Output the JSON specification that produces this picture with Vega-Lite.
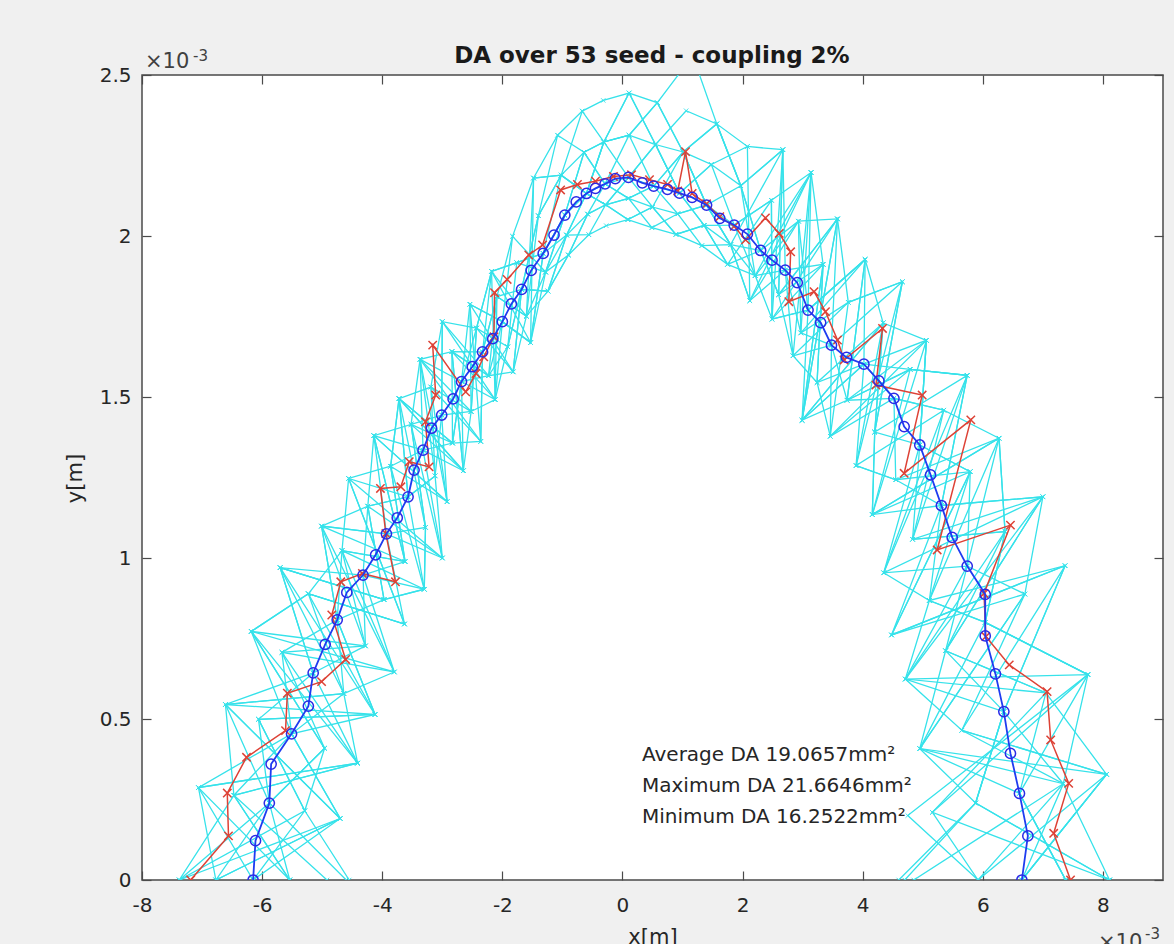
{
"$schema": "https://vega.github.io/schema/vega-lite/v6.json",
"autosize": {"type": "none"},
"width": 1021, "height": 805,
"padding": {"left": 142, "top": 75, "right": 11, "bottom": 64},
"background": "#f0f0f0",
"config": {"view": {"stroke": "#4a4a4a", "strokeWidth": 1.5, "fill": "white"}, "font": "DejaVu Sans"},
"datasets": {
"cyan": [
{"s":1,"x":-7.38,"y":0},{"s":1,"x":-5.88,"y":0.239},{"s":1,"x":-6.06,"y":0.499},{"s":1,"x":-4.12,"y":0.514},{"s":1,"x":-4.75,"y":0.808},{"s":1,"x":-5.01,"y":1.099},{"s":1,"x":-3.62,"y":0.989},{"s":1,"x":-3.86,"y":1.285},{"s":1,"x":-2.92,"y":1.175},{"s":1,"x":-3.01,"y":1.444},{"s":1,"x":-3.00,"y":1.734},{"s":1,"x":-2.23,"y":1.566},{"s":1,"x":-2.09,"y":1.812},{"s":1,"x":-1.68,"y":1.834},{"s":1,"x":-1.40,"y":2.063},{"s":1,"x":-1.02,"y":2.189},{"s":1,"x":-0.64,"y":2.260},{"s":1,"x":-0.31,"y":2.292},{"s":1,"x":0.11,"y":2.313},{"s":1,"x":0.58,"y":2.414},{"s":1,"x":1.01,"y":2.261},{"s":1,"x":1.48,"y":2.222},{"s":1,"x":1.86,"y":2.034},{"s":1,"x":2.21,"y":1.877},{"s":1,"x":3.14,"y":2.197},{"s":1,"x":3.09,"y":1.77},{"s":1,"x":2.99,"y":1.428},{"s":1,"x":4.34,"y":1.730},{"s":1,"x":4.20,"y":1.391},{"s":1,"x":5.74,"y":1.567},{"s":1,"x":4.35,"y":0.954},{"s":1,"x":5.74,"y":0.975},{"s":1,"x":6.70,"y":0.888},{"s":1,"x":5.65,"y":0.465},{"s":1,"x":8.06,"y":0.328},{"s":1,"x":6.65,"y":0},
{"s":2,"x":-4.55,"y":0},{"s":2,"x":-5.29,"y":0.215},{"s":2,"x":-6.06,"y":0.499},{"s":2,"x":-5.15,"y":0.643},{"s":2,"x":-5.70,"y":0.970},{"s":2,"x":-3.97,"y":0.871},{"s":2,"x":-3.30,"y":0.903},{"s":2,"x":-3.57,"y":1.19},{"s":2,"x":-3.72,"y":1.495},{"s":2,"x":-2.83,"y":1.357},{"s":2,"x":-2.68,"y":1.548},{"s":2,"x":-2.43,"y":1.714},{"s":2,"x":-1.82,"y":1.578},{"s":2,"x":-1.60,"y":1.751},{"s":2,"x":-1.28,"y":1.888},{"s":2,"x":-0.93,"y":2.003},{"s":2,"x":-0.58,"y":2.068},{"s":2,"x":-0.28,"y":2.097},{"s":2,"x":0.10,"y":2.117},{"s":2,"x":0.50,"y":2.090},{"s":2,"x":0.89,"y":2.005},{"s":2,"x":1.36,"y":2.033},{"s":2,"x":1.86,"y":2.034},{"s":2,"x":2.48,"y":2.111},{"s":2,"x":2.49,"y":1.742},{"s":2,"x":3.09,"y":1.77},{"s":2,"x":4.04,"y":1.927},{"s":2,"x":3.74,"y":1.490},{"s":2,"x":4.79,"y":1.586},{"s":2,"x":4.16,"y":1.135},{"s":2,"x":5.31,"y":1.163},{"s":2,"x":7.00,"y":1.190},{"s":2,"x":5.38,"y":0.712},{"s":2,"x":7.05,"y":0.581},{"s":2,"x":5.16,"y":0.210},{"s":2,"x":5.92,"y":0},
{"s":3,"x":-6.15,"y":0},{"s":3,"x":-7.06,"y":0.287},{"s":3,"x":-4.41,"y":0.363},{"s":3,"x":-5.67,"y":0.707},{"s":3,"x":-4.28,"y":0.727},{"s":3,"x":-4.67,"y":1.023},{"s":3,"x":-4.56,"y":1.247},{"s":3,"x":-3.00,"y":1.000},{"s":3,"x":-3.32,"y":1.335},{"s":3,"x":-2.83,"y":1.357},{"s":3,"x":-2.84,"y":1.641},{"s":3,"x":-2.12,"y":1.492},{"s":3,"x":-2.00,"y":1.734},{"s":3,"x":-1.83,"y":1.999},{"s":3,"x":-1.48,"y":2.180},{"s":3,"x":-1.08,"y":2.313},{"s":3,"x":-0.67,"y":2.388},{"s":3,"x":-0.32,"y":2.421},{"s":3,"x":0.11,"y":2.444},{"s":3,"x":0.55,"y":2.284},{"s":3,"x":1.06,"y":2.389},{"s":3,"x":1.57,"y":2.348},{"s":3,"x":1.97,"y":2.156},{"s":3,"x":2.30,"y":1.955},{"s":3,"x":2.60,"y":1.818},{"s":3,"x":3.58,"y":2.053},{"s":3,"x":3.76,"y":1.794},{"s":3,"x":3.46,"y":1.378},{"s":3,"x":5.06,"y":1.676},{"s":3,"x":4.95,"y":1.351},{"s":3,"x":4.83,"y":1.058},{"s":3,"x":6.37,"y":1.082},{"s":3,"x":4.71,"y":0.624},{"s":3,"x":7.75,"y":0.638},{"s":3,"x":6.61,"y":0.269},{"s":3,"x":7.38,"y":0},
{"s":4,"x":-5.54,"y":0},{"s":4,"x":-6.47,"y":0.263},{"s":4,"x":-6.61,"y":0.545},{"s":4,"x":-4.64,"y":0.579},{"s":4,"x":-3.80,"y":0.646},{"s":4,"x":-4.32,"y":0.947},{"s":4,"x":-4.24,"y":1.161},{"s":4,"x":-3.57,"y":1.19},{"s":4,"x":-3.12,"y":1.255},{"s":4,"x":-3.37,"y":1.617},{"s":4,"x":-2.36,"y":1.362},{"s":4,"x":-2.33,"y":1.640},{"s":4,"x":-2.18,"y":1.890},{"s":4,"x":-1.76,"y":1.917},{"s":4,"x":-1.32,"y":1.946},{"s":4,"x":-0.96,"y":2.065},{"s":4,"x":-0.60,"y":2.132},{"s":4,"x":-0.29,"y":2.162},{"s":4,"x":0.10,"y":2.182},{"s":4,"x":0.52,"y":2.155},{"s":4,"x":0.95,"y":2.133},{"s":4,"x":1.36,"y":2.033},{"s":4,"x":1.80,"y":1.973},{"s":4,"x":2.12,"y":1.799},{"s":4,"x":2.93,"y":2.046},{"s":4,"x":2.97,"y":1.699},{"s":4,"x":3.48,"y":1.661},{"s":4,"x":4.66,"y":1.858},{"s":4,"x":3.89,"y":1.287},{"s":4,"x":5.35,"y":1.459},{"s":4,"x":6.27,"y":1.372},{"s":4,"x":5.11,"y":0.868},{"s":4,"x":6.04,"y":0.80},{"s":4,"x":4.95,"y":0.408},{"s":4,"x":7.34,"y":0.299},{"s":4,"x":8.11,"y":0},
{"s":5,"x":-6.77,"y":0},{"s":5,"x":-4.70,"y":0.191},{"s":5,"x":-5.51,"y":0.454},{"s":5,"x":-6.18,"y":0.772},{"s":5,"x":-5.23,"y":0.889},{"s":5,"x":-3.63,"y":0.795},{"s":5,"x":-3.93,"y":1.075},{"s":5,"x":-4.14,"y":1.380},{"s":5,"x":-3.52,"y":1.415},{"s":5,"x":-2.65,"y":1.271},{"s":5,"x":-2.68,"y":1.548},{"s":5,"x":-2.23,"y":1.566},{"s":5,"x":-1.91,"y":1.656},{"s":5,"x":-1.68,"y":1.834},{"s":5,"x":-1.24,"y":1.829},{"s":5,"x":-0.90,"y":1.941},{"s":5,"x":-0.56,"y":2.004},{"s":5,"x":-0.27,"y":2.032},{"s":5,"x":0.09,"y":2.051},{"s":5,"x":0.49,"y":2.026},{"s":5,"x":0.89,"y":2.005},{"s":5,"x":1.32,"y":1.970},{"s":5,"x":1.75,"y":1.912},{"s":5,"x":2.21,"y":1.877},{"s":5,"x":2.71,"y":1.894},{"s":5,"x":3.34,"y":1.912},{"s":5,"x":2.99,"y":1.428},{"s":5,"x":4.02,"y":1.602},{"s":5,"x":4.52,"y":1.496},{"s":5,"x":4.55,"y":1.243},{"s":5,"x":5.79,"y":1.268},{"s":5,"x":4.48,"y":0.761},{"s":5,"x":7.37,"y":0.976},{"s":5,"x":6.35,"y":0.523},{"s":5,"x":5.88,"y":0.239},{"s":5,"x":4.70,"y":0},
{"s":6,"x":-7.38,"y":0},{"s":6,"x":-5.29,"y":0.215},{"s":6,"x":-4.96,"y":0.409},{"s":6,"x":-5.67,"y":0.707},{"s":6,"x":-4.75,"y":0.808},{"s":6,"x":-4.67,"y":1.023},{"s":6,"x":-3.30,"y":0.903},{"s":6,"x":-3.28,"y":1.095},{"s":6,"x":-3.72,"y":1.495},{"s":6,"x":-3.19,"y":1.531},{"s":6,"x":-2.52,"y":1.455},{"s":6,"x":-2.54,"y":1.788},{"s":6,"x":-2.00,"y":1.734},{"s":6,"x":-1.53,"y":1.669},{"s":6,"x":-1.28,"y":1.888},{"s":6,"x":-0.96,"y":2.065},{"s":6,"x":-0.64,"y":2.260},{"s":6,"x":-0.29,"y":2.162},{"s":6,"x":0.10,"y":2.117},{"s":6,"x":0.52,"y":2.155},{"s":6,"x":1.01,"y":2.261},{"s":6,"x":1.40,"y":2.096},{"s":6,"x":1.80,"y":1.973},{"s":6,"x":2.67,"y":2.268},{"s":6,"x":2.60,"y":1.818},{"s":6,"x":2.84,"y":1.628},{"s":6,"x":3.76,"y":1.794},{"s":6,"x":4.66,"y":1.858},{"s":6,"x":4.20,"y":1.391},{"s":6,"x":4.95,"y":1.351},{"s":6,"x":4.35,"y":0.954},{"s":6,"x":7.00,"y":1.190},{"s":6,"x":5.38,"y":0.712},{"s":6,"x":7.05,"y":0.581},{"s":6,"x":6.61,"y":0.269},{"s":6,"x":7.38,"y":0},
{"s":7,"x":-4.92,"y":0},{"s":7,"x":-6.47,"y":0.263},{"s":7,"x":-5.51,"y":0.454},{"s":7,"x":-4.12,"y":0.514},{"s":7,"x":-5.70,"y":0.970},{"s":7,"x":-3.97,"y":0.871},{"s":7,"x":-4.24,"y":1.161},{"s":7,"x":-4.14,"y":1.380},{"s":7,"x":-3.32,"y":1.335},{"s":7,"x":-2.65,"y":1.271},{"s":7,"x":-2.84,"y":1.641},{"s":7,"x":-2.33,"y":1.640},{"s":7,"x":-2.09,"y":1.812},{"s":7,"x":-1.60,"y":1.751},{"s":7,"x":-1.40,"y":2.063},{"s":7,"x":-1.02,"y":2.189},{"s":7,"x":-0.60,"y":2.132},{"s":7,"x":-0.31,"y":2.292},{"s":7,"x":0.11,"y":2.313},{"s":7,"x":0.55,"y":2.284},{"s":7,"x":0.95,"y":2.133},{"s":7,"x":1.48,"y":2.222},{"s":7,"x":1.97,"y":2.156},{"s":7,"x":2.30,"y":1.955},{"s":7,"x":3.14,"y":2.197},{"s":7,"x":3.34,"y":1.912},{"s":7,"x":3.24,"y":1.545},{"s":7,"x":3.46,"y":1.378},{"s":7,"x":4.79,"y":1.586},{"s":7,"x":5.74,"y":1.567},{"s":7,"x":5.31,"y":1.163},{"s":7,"x":5.11,"y":0.868},{"s":7,"x":6.04,"y":0.80},{"s":7,"x":7.75,"y":0.638},{"s":7,"x":4.75,"y":0.200},{"s":7,"x":5.92,"y":0},
{"s":8,"x":-6.15,"y":0},{"s":8,"x":-4.70,"y":0.191},{"s":8,"x":-6.61,"y":0.545},{"s":8,"x":-5.15,"y":0.643},{"s":8,"x":-4.28,"y":0.727},{"s":8,"x":-5.01,"y":1.099},{"s":8,"x":-3.93,"y":1.075},{"s":8,"x":-3.00,"y":1.000},{"s":8,"x":-3.52,"y":1.415},{"s":8,"x":-3.01,"y":1.444},{"s":8,"x":-2.52,"y":1.455},{"s":8,"x":-2.12,"y":1.492},{"s":8,"x":-2.18,"y":1.890},{"s":8,"x":-1.76,"y":1.917},{"s":8,"x":-1.32,"y":1.946},{"s":8,"x":-0.93,"y":2.003},{"s":8,"x":-0.60,"y":2.132},{"s":8,"x":-0.31,"y":2.292},{"s":8,"x":0.11,"y":2.444},{"s":8,"x":0.58,"y":2.414},{"s":8,"x":1.17,"y":2.56},{"s":8,"x":1.57,"y":2.348},{"s":8,"x":2.08,"y":2.278},{"s":8,"x":2.67,"y":2.268},{"s":8,"x":2.71,"y":1.894},{"s":8,"x":2.84,"y":1.628},{"s":8,"x":3.24,"y":1.545},{"s":8,"x":4.34,"y":1.730},{"s":8,"x":5.06,"y":1.676},{"s":8,"x":4.16,"y":1.135},{"s":8,"x":5.79,"y":1.268},{"s":8,"x":5.74,"y":0.975},{"s":8,"x":4.71,"y":0.624},{"s":8,"x":5.65,"y":0.465},{"s":8,"x":8.06,"y":0.328},{"s":8,"x":6.65,"y":0},
{"s":9,"x":-6.77,"y":0},{"s":9,"x":-7.06,"y":0.287},{"s":9,"x":-4.41,"y":0.363},{"s":9,"x":-4.64,"y":0.579},{"s":9,"x":-5.23,"y":0.889},{"s":9,"x":-3.63,"y":0.795},{"s":9,"x":-4.56,"y":1.247},{"s":9,"x":-3.57,"y":1.19},{"s":9,"x":-3.12,"y":1.255},{"s":9,"x":-3.19,"y":1.531},{"s":9,"x":-3.00,"y":1.734},{"s":9,"x":-2.43,"y":1.714},{"s":9,"x":-1.91,"y":1.656},{"s":9,"x":-1.68,"y":1.834},{"s":9,"x":-1.24,"y":1.829},{"s":9,"x":-0.93,"y":2.003},{"s":9,"x":-0.56,"y":2.004},{"s":9,"x":-0.28,"y":2.097},{"s":9,"x":0.09,"y":2.051},{"s":9,"x":0.50,"y":2.090},{"s":9,"x":0.89,"y":2.005},{"s":9,"x":1.36,"y":2.033},{"s":9,"x":1.75,"y":1.912},{"s":9,"x":2.48,"y":2.111},{"s":9,"x":2.49,"y":1.742},{"s":9,"x":3.58,"y":2.053},{"s":9,"x":3.48,"y":1.661},{"s":9,"x":3.74,"y":1.490},{"s":9,"x":4.52,"y":1.496},{"s":9,"x":5.35,"y":1.459},{"s":9,"x":4.83,"y":1.058},{"s":9,"x":7.00,"y":1.190},{"s":9,"x":6.70,"y":0.888},{"s":9,"x":4.95,"y":0.408},{"s":9,"x":5.88,"y":0.239},{"s":9,"x":8.11,"y":0},
{"s":10,"x":-5.54,"y":0},{"s":10,"x":-5.88,"y":0.239},{"s":10,"x":-4.96,"y":0.409},{"s":10,"x":-6.18,"y":0.772},{"s":10,"x":-3.80,"y":0.646},{"s":10,"x":-4.67,"y":1.023},{"s":10,"x":-3.62,"y":0.989},{"s":10,"x":-3.86,"y":1.285},{"s":10,"x":-3.72,"y":1.495},{"s":10,"x":-2.83,"y":1.357},{"s":10,"x":-2.36,"y":1.362},{"s":10,"x":-2.54,"y":1.788},{"s":10,"x":-2.00,"y":1.734},{"s":10,"x":-1.53,"y":1.669},{"s":10,"x":-1.48,"y":2.180},{"s":10,"x":-1.02,"y":2.189},{"s":10,"x":-0.67,"y":2.388},{"s":10,"x":-0.31,"y":2.292},{"s":10,"x":0.10,"y":2.182},{"s":10,"x":0.55,"y":2.284},{"s":10,"x":0.95,"y":2.133},{"s":10,"x":1.48,"y":2.222},{"s":10,"x":2.08,"y":2.278},{"s":10,"x":2.12,"y":1.799},{"s":10,"x":3.14,"y":2.197},{"s":10,"x":2.97,"y":1.699},{"s":10,"x":4.04,"y":1.927},{"s":10,"x":4.02,"y":1.602},{"s":10,"x":3.89,"y":1.287},{"s":10,"x":4.55,"y":1.243},{"s":10,"x":6.27,"y":1.372},{"s":10,"x":6.37,"y":1.082},{"s":10,"x":5.38,"y":0.712},{"s":10,"x":6.35,"y":0.523},{"s":10,"x":7.34,"y":0.299},{"s":10,"x":4.85,"y":0},
{"s":11,"x":-5.54,"y":0},{"s":11,"x":-7.06,"y":0.287},{"s":11,"x":-5.51,"y":0.454},{"s":11,"x":-5.67,"y":0.707},{"s":11,"x":-3.80,"y":0.646},{"s":11,"x":-5.01,"y":1.099},{"s":11,"x":-3.93,"y":1.075},{"s":11,"x":-3.28,"y":1.095},{"s":11,"x":-3.52,"y":1.415},{"s":11,"x":-3.37,"y":1.617},{"s":11,"x":-2.68,"y":1.548},{"s":11,"x":-2.12,"y":1.492},{"s":11,"x":-1.91,"y":1.656},{"s":11,"x":-1.76,"y":1.917},{"s":11,"x":-1.28,"y":1.888},{"s":11,"x":-0.96,"y":2.065},{"s":11,"x":-0.60,"y":2.132},{"s":11,"x":-0.28,"y":2.097},{"s":11,"x":0.10,"y":2.182},{"s":11,"x":0.55,"y":2.284},{"s":11,"x":0.95,"y":2.133},{"s":11,"x":1.36,"y":2.033},{"s":11,"x":1.75,"y":1.912},{"s":11,"x":2.30,"y":1.955},{"s":11,"x":2.93,"y":2.046},{"s":11,"x":3.58,"y":2.053},{"s":11,"x":2.99,"y":1.428},{"s":11,"x":3.74,"y":1.490},{"s":11,"x":5.06,"y":1.676},{"s":11,"x":4.95,"y":1.351},{"s":11,"x":5.79,"y":1.268},{"s":11,"x":4.48,"y":0.761},{"s":11,"x":7.37,"y":0.976},{"s":11,"x":5.65,"y":0.465},{"s":11,"x":7.34,"y":0.299},{"s":11,"x":5.92,"y":0},
{"s":12,"x":-6.77,"y":0},{"s":12,"x":-4.70,"y":0.191},{"s":12,"x":-6.61,"y":0.545},{"s":12,"x":-4.64,"y":0.579},{"s":12,"x":-4.75,"y":0.808},{"s":12,"x":-3.97,"y":0.871},{"s":12,"x":-3.30,"y":0.903},{"s":12,"x":-3.86,"y":1.285},{"s":12,"x":-3.72,"y":1.495},{"s":12,"x":-2.65,"y":1.271},{"s":12,"x":-2.52,"y":1.455},{"s":12,"x":-2.43,"y":1.714},{"s":12,"x":-2.18,"y":1.890},{"s":12,"x":-1.53,"y":1.669},{"s":12,"x":-1.32,"y":1.946},{"s":12,"x":-1.02,"y":2.189},{"s":12,"x":-0.60,"y":2.132},{"s":12,"x":-0.28,"y":2.097},{"s":12,"x":0.09,"y":2.051},{"s":12,"x":0.50,"y":2.090},{"s":12,"x":1.01,"y":2.261},{"s":12,"x":1.57,"y":2.348},{"s":12,"x":1.97,"y":2.156},{"s":12,"x":2.21,"y":1.877},{"s":12,"x":2.49,"y":1.742},{"s":12,"x":3.09,"y":1.77},{"s":12,"x":4.04,"y":1.927},{"s":12,"x":4.34,"y":1.730},{"s":12,"x":3.89,"y":1.287},{"s":12,"x":4.55,"y":1.243},{"s":12,"x":5.31,"y":1.163},{"s":12,"x":7.00,"y":1.190},{"s":12,"x":4.71,"y":0.624},{"s":12,"x":7.05,"y":0.581},{"s":12,"x":8.06,"y":0.328},{"s":12,"x":6.65,"y":0},
{"s":13,"x":-7.38,"y":0},{"s":13,"x":-6.47,"y":0.263},{"s":13,"x":-4.41,"y":0.363},{"s":13,"x":-5.15,"y":0.643},{"s":13,"x":-5.70,"y":0.970},{"s":13,"x":-4.32,"y":0.947},{"s":13,"x":-3.62,"y":0.989},{"s":13,"x":-4.14,"y":1.380},{"s":13,"x":-2.92,"y":1.175},{"s":13,"x":-3.19,"y":1.531},{"s":13,"x":-2.36,"y":1.362},{"s":13,"x":-2.33,"y":1.640},{"s":13,"x":-2.09,"y":1.812},{"s":13,"x":-1.60,"y":1.751},{"s":13,"x":-1.24,"y":1.829},{"s":13,"x":-0.93,"y":2.003},{"s":13,"x":-0.60,"y":2.132},{"s":13,"x":-0.31,"y":2.292},{"s":13,"x":0.11,"y":2.313},{"s":13,"x":0.52,"y":2.155},{"s":13,"x":0.92,"y":2.069},{"s":13,"x":1.40,"y":2.096},{"s":13,"x":1.97,"y":2.156},{"s":13,"x":2.67,"y":2.268},{"s":13,"x":2.60,"y":1.818},{"s":13,"x":3.34,"y":1.912},{"s":13,"x":2.99,"y":1.428},{"s":13,"x":4.02,"y":1.602},{"s":13,"x":4.79,"y":1.586},{"s":13,"x":5.74,"y":1.567},{"s":13,"x":4.83,"y":1.058},{"s":13,"x":6.37,"y":1.082},{"s":13,"x":6.04,"y":0.80},{"s":13,"x":7.75,"y":0.638},{"s":13,"x":5.16,"y":0.210},{"s":13,"x":8.11,"y":0},
{"s":14,"x":-4.60,"y":0},{"s":14,"x":-5.88,"y":0.239},{"s":14,"x":-4.96,"y":0.409},{"s":14,"x":-6.18,"y":0.772},{"s":14,"x":-5.23,"y":0.889},{"s":14,"x":-3.63,"y":0.795},{"s":14,"x":-4.56,"y":1.247},{"s":14,"x":-3.86,"y":1.285},{"s":14,"x":-3.32,"y":1.335},{"s":14,"x":-3.37,"y":1.617},{"s":14,"x":-2.84,"y":1.641},{"s":14,"x":-2.23,"y":1.566},{"s":14,"x":-1.82,"y":1.578},{"s":14,"x":-1.68,"y":1.834},{"s":14,"x":-1.40,"y":2.063},{"s":14,"x":-1.08,"y":2.313},{"s":14,"x":-0.64,"y":2.260},{"s":14,"x":-0.29,"y":2.162},{"s":14,"x":0.10,"y":2.117},{"s":14,"x":0.49,"y":2.026},{"s":14,"x":0.92,"y":2.069},{"s":14,"x":1.40,"y":2.096},{"s":14,"x":1.80,"y":1.973},{"s":14,"x":2.12,"y":1.799},{"s":14,"x":2.71,"y":1.894},{"s":14,"x":2.97,"y":1.699},{"s":14,"x":3.76,"y":1.794},{"s":14,"x":4.66,"y":1.858},{"s":14,"x":4.20,"y":1.391},{"s":14,"x":4.16,"y":1.135},{"s":14,"x":6.27,"y":1.372},{"s":14,"x":5.74,"y":0.975},{"s":14,"x":5.38,"y":0.712},{"s":14,"x":4.95,"y":0.408},{"s":14,"x":6.61,"y":0.269},{"s":14,"x":7.38,"y":0},
{"s":15,"x":-6.15,"y":0},{"s":15,"x":-5.29,"y":0.215},{"s":15,"x":-6.06,"y":0.499},{"s":15,"x":-4.12,"y":0.514},{"s":15,"x":-4.75,"y":0.808},{"s":15,"x":-5.01,"y":1.099},{"s":15,"x":-4.24,"y":1.161},{"s":15,"x":-3.00,"y":1.000},{"s":15,"x":-3.12,"y":1.255},{"s":15,"x":-3.01,"y":1.444},{"s":15,"x":-3.00,"y":1.734},{"s":15,"x":-2.12,"y":1.492},{"s":15,"x":-2.09,"y":1.812},{"s":15,"x":-1.83,"y":1.999},{"s":15,"x":-1.28,"y":1.888},{"s":15,"x":-0.90,"y":1.941},{"s":15,"x":-0.58,"y":2.068},{"s":15,"x":-0.29,"y":2.162},{"s":15,"x":0.11,"y":2.313},{"s":15,"x":0.58,"y":2.414},{"s":15,"x":1.01,"y":2.261},{"s":15,"x":1.40,"y":2.096},{"s":15,"x":1.86,"y":2.034},{"s":15,"x":2.48,"y":2.111},{"s":15,"x":3.14,"y":2.197},{"s":15,"x":2.84,"y":1.628},{"s":15,"x":3.48,"y":1.661},{"s":15,"x":3.46,"y":1.378},{"s":15,"x":4.52,"y":1.496},{"s":15,"x":5.35,"y":1.459},{"s":15,"x":4.35,"y":0.954},{"s":15,"x":5.11,"y":0.868},{"s":15,"x":7.37,"y":0.976},{"s":15,"x":6.35,"y":0.523},{"s":15,"x":5.88,"y":0.239},{"s":15,"x":4.60,"y":0},
{"s":16,"x":-7.38,"y":0},{"s":16,"x":-4.70,"y":0.191},{"s":16,"x":-5.51,"y":0.454},{"s":16,"x":-4.64,"y":0.579},{"s":16,"x":-5.70,"y":0.970},{"s":16,"x":-3.97,"y":0.871},{"s":16,"x":-4.24,"y":1.161},{"s":16,"x":-3.57,"y":1.19},{"s":16,"x":-3.72,"y":1.495},{"s":16,"x":-2.65,"y":1.271},{"s":16,"x":-2.84,"y":1.641},{"s":16,"x":-2.23,"y":1.566},{"s":16,"x":-2.00,"y":1.734},{"s":16,"x":-1.53,"y":1.669},{"s":16,"x":-1.32,"y":1.946},{"s":16,"x":-0.96,"y":2.065},{"s":16,"x":-0.64,"y":2.260},{"s":16,"x":-0.31,"y":2.292},{"s":16,"x":0.11,"y":2.444},{"s":16,"x":0.55,"y":2.284},{"s":16,"x":1.01,"y":2.261},{"s":16,"x":1.40,"y":2.096},{"s":16,"x":1.80,"y":1.973},{"s":16,"x":2.21,"y":1.877},{"s":16,"x":2.93,"y":2.046},{"s":16,"x":3.09,"y":1.77},{"s":16,"x":4.04,"y":1.927},{"s":16,"x":3.74,"y":1.490},{"s":16,"x":4.79,"y":1.586},{"s":16,"x":5.74,"y":1.567},{"s":16,"x":5.31,"y":1.163},{"s":16,"x":4.48,"y":0.761},{"s":16,"x":6.70,"y":0.888},{"s":16,"x":4.95,"y":0.408},{"s":16,"x":8.06,"y":0.328},{"s":16,"x":5.92,"y":0},
{"s":17,"x":-5.54,"y":0},{"s":17,"x":-6.47,"y":0.263},{"s":17,"x":-4.41,"y":0.363},{"s":17,"x":-6.18,"y":0.772},{"s":17,"x":-4.28,"y":0.727},{"s":17,"x":-4.32,"y":0.947},{"s":17,"x":-3.30,"y":0.903},{"s":17,"x":-3.28,"y":1.095},{"s":17,"x":-3.52,"y":1.415},{"s":17,"x":-2.83,"y":1.357},{"s":17,"x":-2.68,"y":1.548},{"s":17,"x":-2.54,"y":1.788},{"s":17,"x":-1.82,"y":1.578},{"s":17,"x":-1.68,"y":1.834},{"s":17,"x":-1.24,"y":1.829},{"s":17,"x":-0.90,"y":1.941},{"s":17,"x":-0.58,"y":2.068},{"s":17,"x":-0.28,"y":2.097},{"s":17,"x":0.10,"y":2.182},{"s":17,"x":0.50,"y":2.090},{"s":17,"x":0.92,"y":2.069},{"s":17,"x":1.32,"y":1.970},{"s":17,"x":1.80,"y":1.973},{"s":17,"x":2.30,"y":1.955},{"s":17,"x":2.60,"y":1.818},{"s":17,"x":3.58,"y":2.053},{"s":17,"x":2.99,"y":1.428},{"s":17,"x":4.34,"y":1.730},{"s":17,"x":4.20,"y":1.391},{"s":17,"x":4.16,"y":1.135},{"s":17,"x":6.27,"y":1.372},{"s":17,"x":6.37,"y":1.082},{"s":17,"x":6.04,"y":0.80},{"s":17,"x":7.75,"y":0.638},{"s":17,"x":7.34,"y":0.299},{"s":17,"x":6.65,"y":0},
{"s":18,"x":-6.77,"y":0},{"s":18,"x":-5.88,"y":0.239},{"s":18,"x":-6.61,"y":0.545},{"s":18,"x":-4.12,"y":0.514},{"s":18,"x":-5.23,"y":0.889},{"s":18,"x":-4.67,"y":1.023},{"s":18,"x":-3.62,"y":0.989},{"s":18,"x":-4.14,"y":1.380},{"s":18,"x":-2.92,"y":1.175},{"s":18,"x":-3.37,"y":1.617},{"s":18,"x":-2.52,"y":1.455},{"s":18,"x":-2.43,"y":1.714},{"s":18,"x":-2.18,"y":1.890},{"s":18,"x":-1.60,"y":1.751},{"s":18,"x":-1.48,"y":2.180},{"s":18,"x":-1.02,"y":2.189},{"s":18,"x":-0.60,"y":2.132},{"s":18,"x":-0.28,"y":2.097},{"s":18,"x":0.10,"y":2.117},{"s":18,"x":0.52,"y":2.155},{"s":18,"x":1.01,"y":2.261},{"s":18,"x":1.57,"y":2.348},{"s":18,"x":1.97,"y":2.156},{"s":18,"x":2.67,"y":2.268},{"s":18,"x":2.49,"y":1.742},{"s":18,"x":3.34,"y":1.912},{"s":18,"x":3.24,"y":1.545},{"s":18,"x":4.02,"y":1.602},{"s":18,"x":5.06,"y":1.676},{"s":18,"x":4.95,"y":1.351},{"s":18,"x":5.79,"y":1.268},{"s":18,"x":5.11,"y":0.868},{"s":18,"x":4.71,"y":0.624},{"s":18,"x":6.35,"y":0.523},{"s":18,"x":5.88,"y":0.239},{"s":18,"x":8.11,"y":0}
],
"red": [
{"x":-7.19,"y":0},{"x":-6.56,"y":0.137},{"x":-6.58,"y":0.27},{"x":-6.26,"y":0.381},{"x":-5.61,"y":0.464},{"x":-5.58,"y":0.58},{"x":-5.01,"y":0.616},{"x":-4.61,"y":0.685},{"x":-4.84,"y":0.823},{"x":-4.69,"y":0.926},{"x":-4.33,"y":0.952},{"x":-3.78,"y":0.926},{"x":-3.94,"y":1.076},{"x":-4.03,"y":1.216},{"x":-3.69,"y":1.221},{"x":-3.55,"y":1.299},{"x":-3.22,"y":1.283},{"x":-3.28,"y":1.423},{"x":-3.11,"y":1.506},{"x":-3.16,"y":1.661},{"x":-2.61,"y":1.516},{"x":-2.44,"y":1.573},{"x":-2.31,"y":1.625},{"x":-2.14,"y":1.687},{"x":-2.13,"y":1.824},{"x":-1.92,"y":1.865},{"x":-1.56,"y":1.941},{"x":-1.33,"y":1.972},{"x":-1.03,"y":2.143},{"x":-0.75,"y":2.16},{"x":-0.45,"y":2.17},{"x":-0.15,"y":2.185},{"x":0.15,"y":2.19},{"x":0.45,"y":2.175},{"x":0.75,"y":2.16},{"x":0.92,"y":2.14},{"x":1.05,"y":2.262},{"x":1.16,"y":2.132},{"x":1.40,"y":2.10},{"x":1.62,"y":2.06},{"x":1.86,"y":2.03},{"x":2.05,"y":1.988},{"x":2.38,"y":2.056},{"x":2.61,"y":2.008},{"x":2.80,"y":1.951},{"x":2.77,"y":1.796},{"x":3.19,"y":1.827},{"x":3.38,"y":1.765},{"x":3.58,"y":1.677},{"x":3.69,"y":1.615},{"x":4.33,"y":1.713},{"x":4.22,"y":1.537},{"x":4.99,"y":1.506},{"x":4.69,"y":1.263},{"x":5.80,"y":1.429},{"x":5.24,"y":1.025},{"x":6.46,"y":1.102},{"x":6.02,"y":0.890},{"x":6.05,"y":0.756},{"x":6.44,"y":0.668},{"x":7.07,"y":0.585},{"x":7.13,"y":0.435},{"x":7.43,"y":0.300},{"x":7.18,"y":0.145},{"x":7.46,"y":0}
],
"blue": [
{"x":-6.15,"y":0},{"x":-6.11,"y":0.122},{"x":-5.88,"y":0.239},{"x":-5.85,"y":0.36},{"x":-5.51,"y":0.454},{"x":-5.23,"y":0.54},{"x":-5.15,"y":0.643},{"x":-4.95,"y":0.732},{"x":-4.75,"y":0.808},{"x":-4.59,"y":0.893},{"x":-4.32,"y":0.947},{"x":-4.11,"y":1.01},{"x":-3.93,"y":1.075},{"x":-3.75,"y":1.125},{"x":-3.57,"y":1.19},{"x":-3.47,"y":1.273},{"x":-3.32,"y":1.335},{"x":-3.18,"y":1.403},{"x":-3.01,"y":1.444},{"x":-2.82,"y":1.494},{"x":-2.68,"y":1.548},{"x":-2.50,"y":1.594},{"x":-2.33,"y":1.640},{"x":-2.16,"y":1.681},{"x":-2.00,"y":1.734},{"x":-1.85,"y":1.789},{"x":-1.68,"y":1.834},{"x":-1.52,"y":1.893},{"x":-1.32,"y":1.946},{"x":-1.14,"y":2.003},{"x":-0.96,"y":2.065},{"x":-0.77,"y":2.106},{"x":-0.60,"y":2.132},{"x":-0.45,"y":2.148},{"x":-0.29,"y":2.162},{"x":-0.12,"y":2.178},{"x":0.10,"y":2.182},{"x":0.33,"y":2.165},{"x":0.52,"y":2.155},{"x":0.75,"y":2.145},{"x":0.95,"y":2.133},{"x":1.16,"y":2.12},{"x":1.40,"y":2.096},{"x":1.62,"y":2.055},{"x":1.86,"y":2.034},{"x":2.08,"y":2.006},{"x":2.30,"y":1.955},{"x":2.49,"y":1.925},{"x":2.71,"y":1.894},{"x":2.91,"y":1.855},{"x":3.09,"y":1.77},{"x":3.30,"y":1.731},{"x":3.48,"y":1.661},{"x":3.73,"y":1.623},{"x":4.02,"y":1.602},{"x":4.27,"y":1.55},{"x":4.52,"y":1.496},{"x":4.69,"y":1.408},{"x":4.95,"y":1.351},{"x":5.13,"y":1.258},{"x":5.31,"y":1.163},{"x":5.49,"y":1.064},{"x":5.74,"y":0.975},{"x":6.04,"y":0.887},{"x":6.04,"y":0.758},{"x":6.21,"y":0.64},{"x":6.35,"y":0.523},{"x":6.46,"y":0.393},{"x":6.61,"y":0.269},{"x":6.75,"y":0.137},{"x":6.65,"y":0}
],
"titles": [{"t":"DA over 53 seed - coupling 2%","x":0.49,"y":2.538}],
"notes": [
{"t":"Average DA 19.0657mm²","x":0.325,"y":0.388},
{"t":"Maximum DA 21.6646mm²","x":0.325,"y":0.292},
{"t":"Minimum DA 16.2522mm²","x":0.325,"y":0.197}
],
"expbig": [{"t":"×10","x":-7.95,"y":2.522},{"t":"×10","x":7.917,"y":-0.215}],
"expsmall": [{"t":"-3","x":-7.151,"y":2.542},{"t":"-3","x":8.70,"y":-0.183}]
},
"resolve": {"axis": {"x": "independent", "y": "independent"}},
"encoding": {
"x": {"field": "x", "type": "quantitative", "scale": {"domain": [-8, 9], "nice": false, "zero": false}, "axis": null},
"y": {"field": "y", "type": "quantitative", "scale": {"domain": [0, 2.5], "nice": false, "zero": false}, "axis": null}
},
"layer": [
{"data": {"name": "cyan"},
 "mark": {"type": "line", "color": "#36e2ea", "strokeWidth": 1.3, "clip": true},
 "encoding": {
  "detail": {"field": "s", "type": "nominal"},
  "order": {"value": null},
  "x": {"field": "x", "type": "quantitative", "scale": {"domain": [-8, 9], "nice": false, "zero": false},
   "axis": {"orient": "bottom", "values": [-8,-6,-4,-2,0,2,4,6,8], "ticks": false, "domain": false, "grid": false, "labelFont": "DejaVu Sans", "labelFontSize": 20, "labelColor": "#262626", "labelPadding": 15, "labelFlush": false, "labelOverlap": false, "labelBound": false, "labelExpr": "datum.value < 0 ? '-' + abs(datum.value) : '' + datum.value", "title": "x[m]", "titleFont": "DejaVu Sans", "titleFontSize": 21, "titleFontWeight": "normal", "titleColor": "#262626", "titleY": 46, "titleBaseline": "top"}},
  "y": {"field": "y", "type": "quantitative", "scale": {"domain": [0, 2.5], "nice": false, "zero": false},
   "axis": {"orient": "left", "values": [0,0.5,1,1.5,2,2.5], "format": "~g", "ticks": false, "domain": false, "grid": false, "labelFont": "DejaVu Sans", "labelFontSize": 20, "labelColor": "#262626", "labelPadding": 11, "labelFlush": false, "labelOverlap": false, "labelBound": false, "title": "y[m]", "titleFont": "DejaVu Sans", "titleFontSize": 21, "titleFontWeight": "normal", "titleColor": "#262626", "titleX": -67, "titleY": 403, "titleAngle": 270, "titleAlign": "center", "titleBaseline": "middle"}}
 }},
{"data": {"name": "cyan"},
 "mark": {"type": "point", "shape": "M-1,-1L1,1M-1,1L1,-1", "size": 20, "filled": false, "color": "#36e2ea", "strokeWidth": 0.9, "opacity": 1, "clip": true},
 "encoding": {
  "x": {"field": "x", "type": "quantitative", "scale": {"domain": [-8, 9], "nice": false, "zero": false},
   "axis": {"orient": "bottom", "values": [-8,-6,-4,-2,0,2,4,6,8], "labels": false, "domain": false, "grid": false, "ticks": true, "tickSize": -9, "tickColor": "#4a4a4a", "tickWidth": 1.2, "title": null}},
  "y": {"field": "y", "type": "quantitative", "scale": {"domain": [0, 2.5], "nice": false, "zero": false},
   "axis": {"orient": "left", "values": [0,0.5,1,1.5,2,2.5], "labels": false, "domain": false, "grid": false, "ticks": true, "tickSize": -9, "tickColor": "#4a4a4a", "tickWidth": 1.2, "title": null}}
 }},
{"data": {"name": "red"},
 "mark": {"type": "line", "color": "#dd4236", "strokeWidth": 1.5, "clip": true},
 "encoding": {
  "order": {"value": null},
  "x": {"field": "x", "type": "quantitative", "scale": {"domain": [-8, 9], "nice": false, "zero": false},
   "axis": {"orient": "top", "values": [-8,-6,-4,-2,0,2,4,6,8], "labels": false, "domain": false, "grid": false, "ticks": true, "tickSize": -9, "tickColor": "#4a4a4a", "tickWidth": 1.2, "title": null}},
  "y": {"field": "y", "type": "quantitative", "scale": {"domain": [0, 2.5], "nice": false, "zero": false},
   "axis": {"orient": "right", "values": [0,0.5,1,1.5,2,2.5], "labels": false, "domain": false, "grid": false, "ticks": true, "tickSize": -9, "tickColor": "#4a4a4a", "tickWidth": 1.2, "title": null}}
 }},
{"data": {"name": "red"},
 "mark": {"type": "point", "shape": "M-1,-1L1,1M-1,1L1,-1", "size": 70, "filled": false, "color": "#dd4236", "strokeWidth": 1.5, "opacity": 1, "clip": true}},
{"data": {"name": "blue"},
 "mark": {"type": "line", "color": "#1f3cf0", "strokeWidth": 1.8, "clip": true},
 "encoding": {"order": {"value": null}}},
{"data": {"name": "blue"},
 "mark": {"type": "point", "shape": "circle", "size": 105, "filled": false, "color": "#2a2ae6", "strokeWidth": 1.5, "opacity": 1, "clip": true}},
{"data": {"name": "titles"},
 "mark": {"type": "text", "align": "center", "baseline": "alphabetic", "font": "DejaVu Sans", "fontSize": 23, "fontWeight": "bold", "color": "#1a1a1a"},
 "encoding": {"text": {"field": "t"}}},
{"data": {"name": "notes"},
 "mark": {"type": "text", "align": "left", "baseline": "middle", "font": "DejaVu Sans", "fontSize": 20, "color": "#262626"},
 "encoding": {"text": {"field": "t"}}},
{"data": {"name": "expbig"},
 "mark": {"type": "text", "align": "left", "baseline": "alphabetic", "font": "DejaVu Sans", "fontSize": 21, "color": "#404040"},
 "encoding": {"text": {"field": "t"}}},
{"data": {"name": "expsmall"},
 "mark": {"type": "text", "align": "left", "baseline": "alphabetic", "font": "DejaVu Sans", "fontSize": 15, "color": "#404040"},
 "encoding": {"text": {"field": "t"}}}
]
}
